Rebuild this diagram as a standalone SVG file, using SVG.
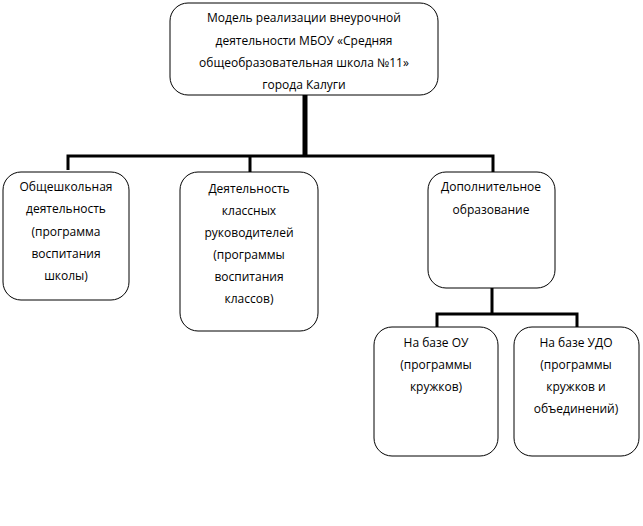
<svg xmlns="http://www.w3.org/2000/svg" width="643" height="526" viewBox="0 0 643 526">
<style>
.b{fill:#fff;stroke:#000;stroke-width:1}
text{font-family:"Open Sans","Liberation Sans",sans-serif;font-size:12px;text-anchor:middle;fill:#000}
.c{fill:none;stroke:#000;stroke-width:3}
</style>
<rect width="643" height="526" fill="#fff"/>
<g id="connectors">
<line x1="305" y1="95" x2="305" y2="156" stroke="#000" stroke-width="5"/>
<path class="c" d="M68 170V156H493V172M250 156V172"/>
<path class="c" d="M492 288V314H437V327M492 314H577V327"/>
</g>
<g id="top"><rect class="b" x="170" y="3" width="268" height="92" rx="18"/>
<text x="304" y="22">Модель реализации внеурочной</text><text x="304" y="45">деятельности МБОУ «Средняя</text><text x="304" y="67">общеобразовательная школа №11»</text><text x="304" y="89">города Калуги</text></g>
<g id="n1"><rect class="b" x="3" y="172" width="126" height="128" rx="18"/>
<text x="66" y="191">Общешкольная</text><text x="66" y="213">деятельность</text><text x="66" y="236">(программа</text><text x="66" y="258">воспитания</text><text x="66" y="280">школы)</text></g>
<g id="n2"><rect class="b" x="180" y="172" width="138" height="159" rx="18"/>
<text x="249" y="193">Деятельность</text><text x="249" y="215">классных</text><text x="249" y="237">руководителей</text><text x="249" y="259">(программы</text><text x="249" y="281">воспитания</text><text x="249" y="303">классов)</text></g>
<g id="n3"><rect class="b" x="428" y="172" width="127" height="116" rx="18"/>
<text x="491" y="191">Дополнительное</text><text x="491" y="214">образование</text></g>
<g id="n4"><rect class="b" x="374" y="327" width="124" height="129" rx="18"/>
<text x="436" y="347">На базе ОУ</text><text x="436" y="369">(программы</text><text x="436" y="391">кружков)</text></g>
<g id="n5"><rect class="b" x="514" y="327" width="125" height="129" rx="18"/>
<text x="576" y="347">На базе УДО</text><text x="576" y="369">(программы</text><text x="576" y="391">кружков и</text><text x="576" y="413">объединений)</text></g>
</svg>
